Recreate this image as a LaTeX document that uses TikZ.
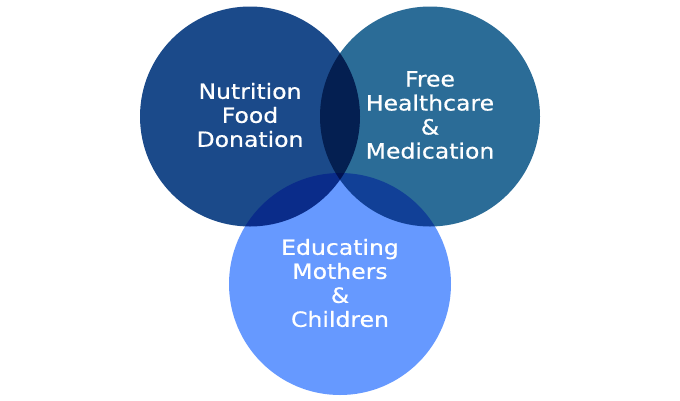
\documentclass[tikz,border=0pt]{standalone}
\usepackage{fontspec}
\setmainfont[FakeStretch=1.12,FakeBold=0.6]{DejaVu Sans}
\definecolor{cleft}{RGB}{27,74,138}
\definecolor{cright}{RGB}{43,108,151}
\definecolor{cbottom}{RGB}{102,153,255}
\tikzset{
  venn/.style={circle, minimum size=220pt, inner sep=0pt, draw=none},
  lbl/.style={text=white, align=center, font=\fontsize{21}{24}\selectfont, inner sep=0pt}
}
\begin{document}
\begin{tikzpicture}[x=1pt,y=-1pt]
\useasboundingbox (0,0) rectangle (680,400);
\begin{scope}[blend group=multiply]
\node[venn, fill=cleft] (L) at (250,116.5) {};
\node[venn, fill=cright] (R) at (430,116.5) {};
\node[venn, fill=cbottom, minimum size=222pt] (B) at (340,284) {};
\end{scope}
\node[lbl] (tl) at (250,115) {Nutrition\\Food\\Donation};
\node[lbl] (tr) at (430,115) {Free\\Healthcare\\\&\\Medication};
\node[lbl] (tb) at (340,283) {Educating\\Mothers\\\&\\Children};
\end{tikzpicture}
\end{document}
